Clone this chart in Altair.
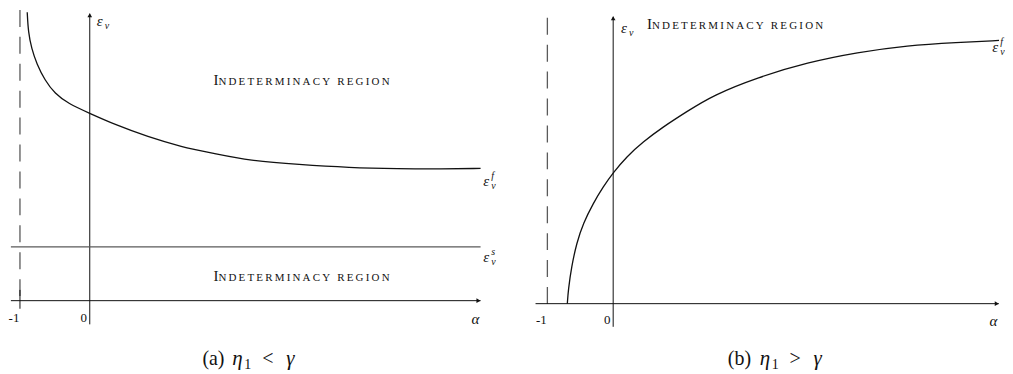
import altair as alt
import pandas as pd

# ---------------- data ----------------
# Panel (a): eta1 < gamma  -- frontier eps_v^f(alpha), decreasing
a_alpha = [-0.896, -0.881, -0.833, -0.761, -0.643, -0.500, -0.310, 0.000, 0.357, 0.833, 1.310, 1.786,
           2.286, 3.000, 3.714, 4.429, 5.000, 5.600]
a_eps = [5.357, 4.987, 4.680, 4.402, 4.093, 3.846, 3.661, 3.478, 3.272, 3.043, 2.857, 2.735,
         2.602, 2.528, 2.472, 2.450, 2.444, 2.457]
a_eps_s = 1.0          # level of eps_v^s
# Panel (b): eta1 > gamma  -- frontier eps_v^f(alpha), increasing
b_alpha = [-0.697, -0.682, -0.632, -0.556, -0.455, -0.303, -0.152, 0.000, 0.202, 0.455, 0.758, 1.111,
           1.515, 2.197, 2.955, 3.712, 4.470, 5.227, 5.864]
b_eps = [0.000, 0.259, 0.691, 1.124, 1.494, 1.865, 2.172, 2.431, 2.728, 3.006, 3.283, 3.561,
         3.870, 4.204, 4.481, 4.667, 4.796, 4.852, 4.889]

asymptote = -1.0
tick_values = [-1, 0]
tick_labels = ["-1", "0"]
region_label = "Indeterminacy region"
caption_a = ["(a)", "η", "1", "<", "γ"]
caption_b = ["(b)", "η", "1", ">", "γ"]

FONT = "Liberation Serif"
INK = "#111111"
GREY = "#5a5a5a"


def panel(x0_px, kx, y0_px, left_px, width, height, top_px=8):
    """Scales for one schematic panel. x0_px/y0_px: where alpha=0 / eps=0 fall."""
    xdom = [(left_px - x0_px) / kx, (left_px + width - x0_px) / kx]
    ydom = [(y0_px - (top_px + height)) / 54.0, (y0_px - top_px) / 54.0]
    xs = alt.Scale(domain=xdom, nice=False, zero=False)
    ys = alt.Scale(domain=ydom, nice=False, zero=False)

    def X(f="x"):
        return alt.X(f, type="quantitative", scale=xs, axis=None)

    def Y(f="y"):
        return alt.Y(f, type="quantitative", scale=ys, axis=None)

    def X2(f="x2"):
        return alt.X2(f)

    def Y2(f="y2"):
        return alt.Y2(f)

    return X, Y, X2, Y2


def text_layer(X, Y, x, y, s, size, italic=False, dx=0, dy=0, align="left", color=INK):
    df = pd.DataFrame({"x": [x], "y": [y], "t": [s]})
    return alt.Chart(df).mark_text(
        align=align, baseline="alphabetic", font=FONT, fontSize=size,
        fontStyle="italic" if italic else "normal", dx=dx, dy=dy, color=color
    ).encode(x=X(), y=Y(), text="t:N")


def eps_label(X, Y, x, y, sup=None, sub="v"):
    layers = [text_layer(X, Y, x, y, "ε", 15, italic=True)]
    if sup:
        layers.append(text_layer(X, Y, x, y, sup, 10, italic=True, dx=8, dy=-7))
    layers.append(text_layer(X, Y, x, y, sub, 10, italic=True, dx=8, dy=3))
    return layers


def region_text(X, Y, x, y):
    first = region_label[0]
    rest = "\u2009".join(region_label[1:].upper())
    return [
        text_layer(X, Y, x, y, first, 15, align="right"),
        text_layer(X, Y, x, y, rest, 11, align="left", dx=0),
    ]


def caption(X, Y, x, y, parts, offs):
    L = []
    for p, o in zip(parts, offs):
        if p == "1":
            L.append(text_layer(X, Y, x, y, p, 14, dx=o, dy=4))
        elif p in ("η", "γ"):
            L.append(text_layer(X, Y, x, y, p, 21, italic=True, dx=o))
        else:
            L.append(text_layer(X, Y, x, y, p, 20, dx=o))
    return L


def rule_h(X, Y, X2, x1, x2, y, color=INK, width=1.0):
    df = pd.DataFrame({"x": [x1], "x2": [x2], "y": [y]})
    return alt.Chart(df).mark_rule(color=color, strokeWidth=width).encode(x=X(), x2=X2(), y=Y())


def rule_v(X, Y, Y2, x, y1, y2, color=INK, width=1.0, dash=None):
    df = pd.DataFrame({"x": [x], "y": [y1], "y2": [y2]})
    kw = dict(color=color, strokeWidth=width)
    if dash:
        kw["strokeDash"] = dash
    return alt.Chart(df).mark_rule(**kw).encode(x=X(), y=Y(), y2=Y2())


def arrow(X, Y, x, y, shape):
    df = pd.DataFrame({"x": [x], "y": [y]})
    return alt.Chart(df).mark_point(shape=shape, filled=True, size=22, color=INK, opacity=1).encode(x=X(), y=Y())


def curve(X, Y, alpha, eps):
    df = pd.DataFrame({"x": alpha, "y": eps})
    return alt.Chart(df).mark_line(color=INK, strokeWidth=1.3, interpolate="basis").encode(x=X(), y=Y())


def ticks(X, Y, ylab):
    df = pd.DataFrame({"x": tick_values, "y": [ylab] * 2, "t": tick_labels})
    return alt.Chart(df).mark_text(align="center", baseline="alphabetic", font=FONT, fontSize=13, color=INK, dx=-6).encode(
        x=X(), y=Y(), text="t:N")


# ---------------- panel (a) ----------------
H = 358
Xa, Ya, X2a, Y2a = panel(90, 70.0, 301, 8, 495, H)
layers_a = [
    rule_v(Xa, Ya, Y2a, asymptote, 5.40, -0.05, color=GREY, width=1.3, dash=[17, 10]),
    rule_v(Xa, Ya, Y2a, asymptote, -0.15, 0.2, color=INK, width=1.0),
    rule_h(Xa, Ya, X2a, -1.13, 5.60, 0),
    arrow(Xa, Ya, 5.57, 0, "triangle-right"),
    rule_v(Xa, Ya, Y2a, 0, -0.44, 5.33),
    arrow(Xa, Ya, 0, 5.30, "triangle-up"),
    rule_h(Xa, Ya, X2a, -1.13, 5.60, a_eps_s, color=GREY, width=1.2),
    curve(Xa, Ya, a_alpha, a_eps),
    ticks(Xa, Ya, -0.39),
    text_layer(Xa, Ya, 5.47, -0.44, "α", 15, italic=True),
]
layers_a += eps_label(Xa, Ya, 0.10, 5.11)
layers_a += eps_label(Xa, Ya, 5.64, 2.13, sup="f")
layers_a += eps_label(Xa, Ya, 5.64, 0.72, sup="s")
layers_a += region_text(Xa, Ya, 1.843, 4.00)
layers_a += region_text(Xa, Ya, 1.843, 0.37)
layers_a += caption(Xa, Ya, 1.614, -1.204, caption_a, [0, 30, 42, 60, 84])

left = alt.layer(*layers_a).properties(width=495, height=H)

# ---------------- panel (b) ----------------
Xb, Yb, X2b, Y2b = panel(615, 66.0, 304, 513, 492, H)
layers_b = [
    rule_v(Xb, Yb, Y2b, asymptote, 5.31, -0.12, color=GREY, width=1.3, dash=[17, 10]),
    rule_h(Xb, Yb, X2b, -1.18, 5.86, 0),
    arrow(Xb, Yb, 5.83, 0, "triangle-right"),
    rule_v(Xb, Yb, Y2b, 0, -0.43, 5.33),
    arrow(Xb, Yb, 0, 5.30, "triangle-up"),
    curve(Xb, Yb, b_alpha, b_eps),
    ticks(Xb, Yb, -0.37),
    text_layer(Xb, Yb, 5.72, -0.41, "α", 15, italic=True),
]
layers_b += eps_label(Xb, Yb, 0.12, 5.02)
layers_b += eps_label(Xb, Yb, 5.76, 4.67, sup="f")
layers_b += region_text(Xb, Yb, 0.59, 5.11)
layers_b += caption(Xb, Yb, 1.742, -1.148, caption_b, [0, 32, 44, 62, 86])

right = alt.layer(*layers_b).properties(width=492, height=H)

chart = alt.hconcat(left, right, spacing=10).properties(
    padding=0, background="white"
).configure_view(stroke=None)

chart.save("out.html", embed_options={"renderer": "svg", "actions": False})
